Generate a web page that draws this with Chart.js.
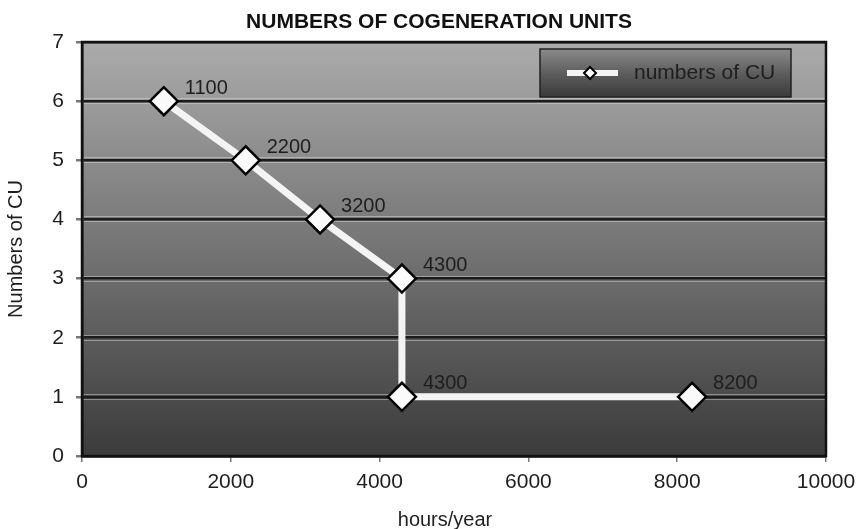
<!DOCTYPE html>
<html>
<head>
<meta charset="utf-8">
<script src="https://cdn.jsdelivr.net/npm/chart.js@4"></script>
<style>
  html, body { margin: 0; padding: 0; background: #fff; }
  #wrap { width: 858px; height: 529px; }
</style>
</head>
<body>
<div id="wrap"><canvas id="cu" width="858" height="529"></canvas></div>
<script>
// Data
const hours = [1100, 2200, 3200, 4300, 4300, 8200];
const units = [6, 5, 4, 3, 1, 1];
const pointLabels = ['1100', '2200', '3200', '4300', '4300', '8200'];
const seriesName = 'numbers of CU';
const chartTitle = 'NUMBERS OF COGENERATION UNITS';
const xTitle = 'hours/year';
const yTitle = 'Numbers of CU';

const FONT = '"Liberation Sans", Arial, sans-serif';

// background gradient + gridline highlight + frame
const plotBg = {
  id: 'plotBg',
  beforeDraw(chart) {
    const { ctx, chartArea: a } = chart;
    const g = ctx.createLinearGradient(0, a.top, 0, a.bottom);
    g.addColorStop(0, '#ababab');
    g.addColorStop(0.5, '#747474');
    g.addColorStop(1, '#3b3b3b');
    ctx.save();
    ctx.fillStyle = g;
    ctx.fillRect(a.left, a.top, a.right - a.left, a.bottom - a.top);
    const y = chart.scales.y;
    ctx.strokeStyle = 'rgba(225,225,225,0.45)';
    ctx.lineWidth = 1;
    for (let v = 1; v < 7; v++) {
      const py = Math.round(y.getPixelForValue(v));
      ctx.beginPath(); ctx.moveTo(a.left, py + 2.5); ctx.lineTo(a.right, py + 2.5); ctx.stroke();
      ctx.beginPath(); ctx.moveTo(a.left, py - 2.5); ctx.lineTo(a.right, py - 2.5); ctx.stroke();
    }
    ctx.restore();
  },
  afterDraw(chart) {
    const { ctx, chartArea: a } = chart;
    ctx.save();
    ctx.strokeStyle = '#111';
    ctx.lineWidth = 2.5;
    ctx.strokeRect(a.left, a.top, a.right - a.left, a.bottom - a.top);
    // chart title and x axis title (offset like the original)
    ctx.textAlign = 'center';
    ctx.textBaseline = 'middle';
    ctx.fillStyle = '#111';
    ctx.font = 'bold 21px ' + FONT;
    ctx.fillText(chartTitle, 439, 22);
    ctx.fillStyle = '#1e1e1e';
    ctx.font = '20px ' + FONT;
    ctx.fillText(xTitle, 445, 520);
    ctx.restore();
  }
};

// value labels next to points
const valueLabels = {
  id: 'valueLabels',
  afterDatasetsDraw(chart) {
    const { ctx } = chart;
    const meta = chart.getDatasetMeta(0);
    ctx.save();
    ctx.font = '20px ' + FONT;
    ctx.fillStyle = '#1e1e1e';
    ctx.textBaseline = 'middle';
    ctx.textAlign = 'left';
    meta.data.forEach((pt, i) => {
      ctx.fillText(pointLabels[i], pt.x + 21, pt.y - 13);
    });
    ctx.restore();
  }
};

// legend box drawn in the plot
const legendBox = {
  id: 'legendBox',
  afterDraw(chart) {
    const { ctx, chartArea: a } = chart;
    const x = a.right - 286, y = a.top + 7, w = 251, h = 48;
    ctx.save();
    const g = ctx.createLinearGradient(0, y, 0, y + h);
    g.addColorStop(0, '#8a8a8a');
    g.addColorStop(0.5, '#5e5e5e');
    g.addColorStop(1, '#3a3a3a');
    ctx.fillStyle = g;
    ctx.fillRect(x, y, w, h);
    ctx.strokeStyle = '#222';
    ctx.lineWidth = 1.5;
    ctx.strokeRect(x, y, w, h);
    const cy = y + h / 2;
    ctx.strokeStyle = '#f4f4f4';
    ctx.lineWidth = 6;
    ctx.beginPath(); ctx.moveTo(x + 27, cy); ctx.lineTo(x + 78, cy); ctx.stroke();
    const mx = x + 50, r = 6;
    ctx.beginPath();
    ctx.moveTo(mx, cy - r); ctx.lineTo(mx + r, cy); ctx.lineTo(mx, cy + r); ctx.lineTo(mx - r, cy); ctx.closePath();
    ctx.fillStyle = '#fff'; ctx.fill();
    ctx.strokeStyle = '#000'; ctx.lineWidth = 2; ctx.stroke();
    ctx.font = '21px ' + FONT;
    ctx.fillStyle = '#1e1e1e';
    ctx.textBaseline = 'middle';
    ctx.fillText(chart.data.datasets[0].label, x + 94, cy);
    ctx.restore();
  }
};

new Chart(document.getElementById('cu').getContext('2d'), {
  type: 'scatter',
  data: {
    datasets: [{
      label: seriesName,
      data: hours.map((h, i) => ({ x: h, y: units[i] })),
      showLine: true,
      borderColor: '#f4f4f4',
      borderWidth: 7,
      pointStyle: 'rectRot',
      pointRadius: 14,
      pointBackgroundColor: '#fafafa',
      pointBorderColor: '#000',
      pointBorderWidth: 2.5
    }]
  },
  options: {
    responsive: false,
    animation: false,
    layout: { padding: { left: 0, right: 32, top: 42, bottom: 0 } },
    plugins: {
      legend: { display: false },
      tooltip: { enabled: false },
      title: { display: false }
    },
    scales: {
      x: {
        type: 'linear',
        min: 0, max: 10000,
        ticks: { stepSize: 2000, color: '#1e1e1e', font: { family: FONT, size: 21 }, padding: 8,
                 callback: v => String(v) },
        grid: { drawOnChartArea: false, drawTicks: true, tickLength: 6, color: '#777', lineWidth: 1.5 },
        border: { color: '#111', width: 2.5 },
        afterFit(s) { s.height = 73; s.paddingLeft = 0; s.paddingRight = 0; }
      },
      y: {
        min: 0, max: 7,
        ticks: { stepSize: 1, color: '#1e1e1e', font: { family: FONT, size: 21 }, padding: 12 },
        grid: { color: '#1c1c1c', lineWidth: 2.5, tickLength: 6, tickColor: '#777' },
        border: { color: '#111', width: 2.5 },
        title: { display: true, text: yTitle, color: '#1e1e1e', font: { family: FONT, size: 20 }, padding: { bottom: 2 } },
        afterFit(s) { s.width = 82; s.paddingTop = 0; s.paddingBottom = 0; }
      }
    }
  },
  plugins: [plotBg, valueLabels, legendBox]
});
</script>
</body>
</html>
